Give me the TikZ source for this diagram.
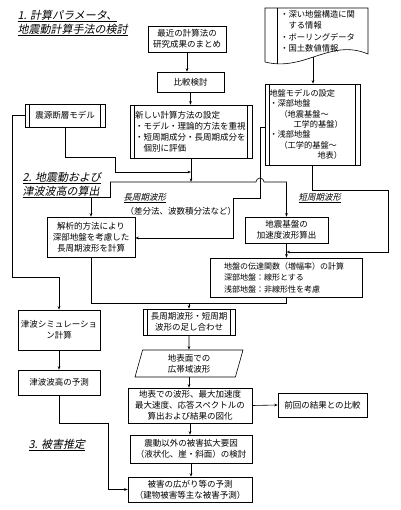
\documentclass[tikz,border=0pt]{standalone}
\usepackage{fontspec}
\setmainfont{Noto Sans CJK JP}
\newfontfamily\slfont[FakeSlant=0.2]{Noto Sans CJK JP}
\usetikzlibrary{positioning, arrows.meta, shapes.geometric, calc}
\tikzset{>={Stealth[length=3.5pt,width=2.6pt]}}

\begin{document}
\begin{tikzpicture}[
    x=1pt, y=-1pt,
    font=\fontsize{8.5}{11}\selectfont,
    line width=0.6pt,
    box/.style={draw, align=center, inner sep=1pt},
    pbox/.style={box, path picture={
        \draw ([xshift=4.5pt]path picture bounding box.north west) -- ([xshift=4.5pt]path picture bounding box.south west);
        \draw ([xshift=-4.5pt]path picture bounding box.north east) -- ([xshift=-4.5pt]path picture bounding box.south east);}},
    surfbox/.style={draw, trapezium, trapezium left angle=70, trapezium right angle=110,
                    trapezium stretches body, align=center, inner sep=1pt},
    ttl/.style={anchor=west, align=left, font=\fontsize{11}{14}\selectfont\slfont},
    lbl/.style={anchor=west, font=\fontsize{8.5}{10}\selectfont\slfont},
  ]
  \useasboundingbox (0,0) rectangle (400,510);

  % titles
  \node[ttl] (t1) at (14,23) {\underline{1. 計算パラメータ、}\\\underline{地震動計算手法の検討}};
  \node[ttl] (t2) at (19,185) {\underline{2. 地震動および}\\\underline{津波波高の算出}};
  \node[ttl] (t3) at (25,445) {\underline{3. 被害推定}};

  % boxes
  \node[box, minimum width=78pt, minimum height=26pt] (recent) at (187,39) {最近の計算法の\\研究成果のまとめ};
  \node[box, minimum width=67pt, minimum height=20pt] (compare) at (190.5,82) {比較検討};
  \node[pbox, minimum width=122pt, minimum height=53pt, text width=112pt, align=left,
        font=\fontsize{8.5}{11}\selectfont] (newm) at (191,131.5)
    {新しい計算方法の設定\\・モデル・理論的方法を重視\\・短周期成分・長周期成分を\\\hspace{8.5pt}個別に評価};
  \node[pbox, minimum width=80pt, minimum height=23pt] (shingen) at (65,115.5) {震源断層モデル};

  \node[align=left, anchor=north west, inner sep=0pt, font=\fontsize{8.3}{11.5}\selectfont] (doctxt) at (280,10)
    {・深い地盤構造に関\\\hspace{8.3pt}する情報\\・ボーリングデータ\\・国土数値情報};
  \coordinate (docbot) at (313,57);
  \draw (265,8) -- (368,8) -- (368,54) .. controls (330,38) and (305,72) .. (265,62) -- cycle;
  \draw (277,8) -- (277,64);

  \node[pbox, minimum width=95pt, minimum height=81pt, text width=86pt, align=left,
        font=\fontsize{8.2}{10.3}\selectfont] (ground) at (312.5,124.5)
    {地盤モデルの設定\\・深部地盤\\\hspace{10pt}（地震基盤～\\\hspace{24pt}工学的基盤）\\・浅部地盤\\\hspace{10pt}（工学的基盤～\\\hspace{48pt}地表）};

  \node[box, minimum width=88pt, minimum height=40pt] (sekkai) at (91,237) {解析的方法により\\深部地盤を考慮した\\長周期波形を計算};
  \node[box, minimum width=83pt, minimum height=26pt] (accel) at (286.5,230) {地震基盤の\\加速度波形算出};
  \node[box, minimum width=152pt, minimum height=39pt, text width=124pt, align=left,
        font=\fontsize{8}{11.5}\selectfont] (transfer) at (286,277.5)
    {地盤の伝達関数（増幅率）の計算\\深部地盤：線形とする\\浅部地盤：非線形性を考慮};

  \node[lbl] (llong) at (120,198) {\underline{長周期波形}};
  \node[anchor=west] (lmeth) at (122,211) {（差分法、波数積分法など）};
  \node[lbl] (lshort) at (295,198) {\underline{短周期波形}};

  \node[pbox, minimum width=92pt, minimum height=26pt] (sum) at (189,322) {長周期波形・短周期\\波形の足し合わせ};
  \node[surfbox, minimum width=108pt, minimum height=27pt] (surf) at (189,363.5) {地表面での\\広帯域波形};
  \node[box, minimum width=124pt, minimum height=35pt] (wave) at (190,405.5)
    {地表での波形、最大加速度\\最大速度、応答スペクトルの\\算出および結果の図化};
  \node[box, minimum width=89pt, minimum height=24pt] (prev) at (322.5,405) {前回の結果との比較};
  \node[box, minimum width=122pt, minimum height=28pt] (other) at (191,449) {震動以外の被害拡大要因\\（液状化、崖・斜面）の検討};
  \node[box, minimum width=124pt, minimum height=25pt] (dmg) at (190,489.5) {被害の広がり等の予測\\（建物被害等主な被害予測）};

  \node[box, minimum width=82pt, minimum height=40pt] (tsim) at (59,330) {津波シミュレーショ\\ン計算};
  \node[box, minimum width=82pt, minimum height=25pt] (tpred) at (59,382.5) {津波波高の予測};

  % connectors
  \coordinate (split) at (110,182);
  \coordinate (mrg) at (189,303);
  \draw[->] (recent) -- (recent |- compare.north);
  \draw[->] (compare) -- (compare |- newm.north);
  \draw[->] (docbot) -- (docbot |- ground.north);
  \draw[->] (shingen.west) -| (12,277) -| (tsim.north);
  \draw[->] (shingen.south) |- (115,157) |- (newm.south |- 0,172);
  \draw[->] (newm.south) -- (newm.south |- split);
  \draw[->] (split) -- (256,182) arc[start angle=180, end angle=0, radius=4pt]
    -- (accel.north |- split) -- (accel.north);
  \draw[->] (split) -- (110,197) -| (sekkai.north);
  \draw[->] (ground.west |- 0,127) -- (260,127) -- (260,198) -| (233,238) -- (sekkai.east |- 0,238);
  \draw[->] (ground.south) |- (388,190) |- (accel.south |- 0,252);
  \draw[->] (accel.south) -- (accel.south |- transfer.north);
  \draw (transfer.south) |- (mrg);
  \draw (sekkai.south) |- (mrg);
  \draw[->] (mrg) -- (sum.north);
  \draw[->] (sum.south) -- (surf.north);
  \draw[->] (surf.south) -- (surf.south |- wave.north);
  \draw[->] (wave.east) -- (prev.west);
  \draw[->] (wave.south) -- (wave.south |- other.north);
  \draw[->] (other.south) -- (other.south |- dmg.north);
  \draw[->] (tsim.south) -- (tpred.north);
  \draw[->] (tpred.south) |- (108,423) |- (dmg.west);
\end{tikzpicture}
\end{document}
